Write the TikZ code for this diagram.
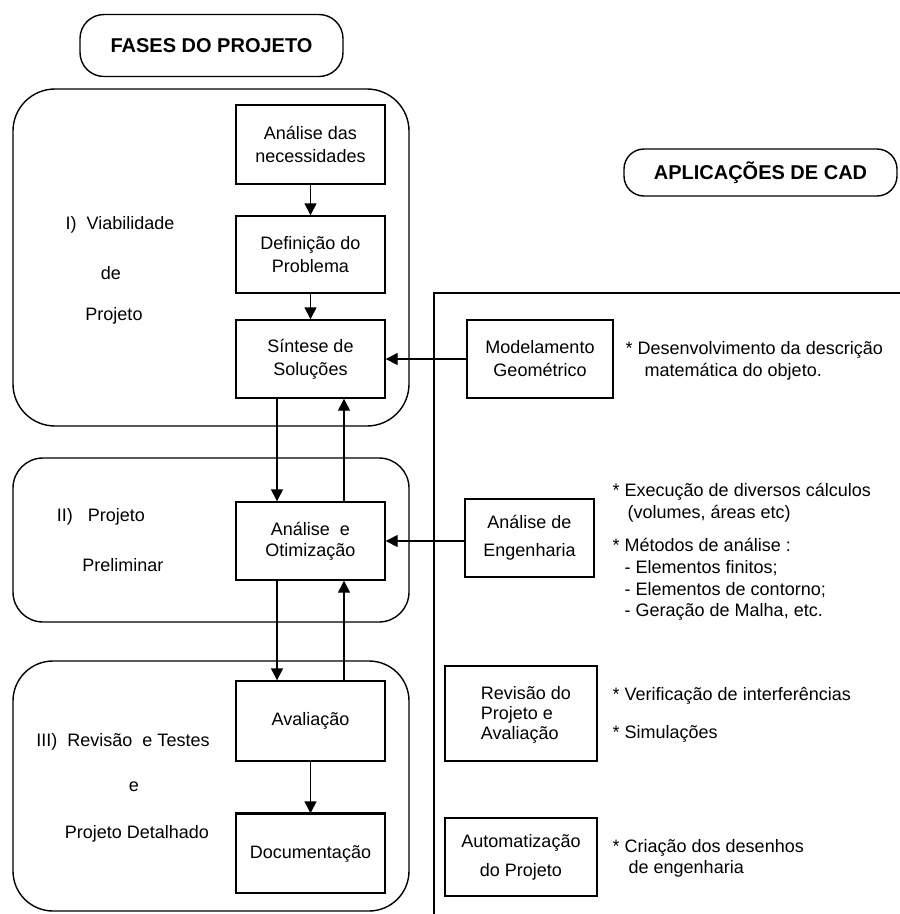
\documentclass[tikz,border=0pt]{standalone}
\usepackage{fontspec}
\setmainfont{Liberation Sans}
\usetikzlibrary{arrows.meta}
\begin{document}
\begin{tikzpicture}[x=1pt,y=-1pt,
  line width=1.4pt,
  font=\fontsize{18}{23}\selectfont,
  title/.style={draw, rounded corners=24pt, inner sep=0pt,
    font=\fontsize{20}{24}\selectfont\bfseries},
  phasebox/.style={draw, minimum width=149pt, minimum height=79pt, inner sep=0pt, align=center},
  cadbox/.style={draw, inner sep=0pt, align=center},
  plain/.style={inner sep=0pt, align=left},
  note/.style={inner sep=0pt, align=left, anchor=west},
  arr/.style={-{Triangle[length=12pt,width=12pt]}},
  frame/.style={line width=1.4pt}
]
\useasboundingbox (0,0) rectangle (900,914);

% headings
\node[title, minimum width=263pt, minimum height=62pt] (fases) at (211.5,45.5) {FASES DO PROJETO};
\node[title, minimum width=273pt, minimum height=47pt, rounded corners=20pt] (cad) at (760.5,172.5) {APLICA\c{C}\~OES DE CAD};

% phase frames
\draw[frame, rounded corners=42pt] (13,89) rectangle (409,426);
\draw[frame, rounded corners=30pt] (13,458) rectangle (409,622);
\draw[frame, rounded corners=40pt] (13,661) rectangle (409,911);

% phase labels
\node[plain] (l1a) at (120,225) {I)\; Viabilidade};
\node[plain] (l1b) at (111,273) {de};
\node[plain] (l1c) at (114,316) {Projeto};
\node[plain] (l2a) at (101,517) {II)\;\; Projeto};
\node[plain] (l2b) at (123,565) {Preliminar};
\node[plain] (l3a) at (123,742) {III)\; Revis\~ao\; e Testes};
\node[plain] (l3b) at (134,787) {e};
\node[plain] (l3c) at (137,834) {Projeto Detalhado};

% design steps
\node[phasebox] (nec) at (310.5,144.5) {An\'alise das\\necessidades};
\node[phasebox, minimum height=77pt] (def) at (310.5,254.5) {Defini\c{c}\~ao do\\Problema};
\node[phasebox, minimum height=78pt] (sin) at (310.5,359) {S\'intese de\\Solu\c{c}\~oes};
\node[phasebox, minimum height=78pt, font=\fontsize{18}{21}\selectfont] (oti) at (310.5,541) {An\'alise\; e\\Otimiza\c{c}\~ao};
\node[phasebox, minimum height=80pt] (ava) at (310.5,721) {Avalia\c{c}\~ao};
\node[phasebox] (doc) at (310.5,853.5) {Documenta\c{c}\~ao};
\draw[line width=3pt] (doc.north west) -- (doc.north east);

% columns of the two-way links between phases
\coordinate (down) at (277,0);
\coordinate (up) at (344,0);

\draw[arr] (nec) -- (def);
\draw[arr] (def) -- (sin);
\draw[arr] (down |- sin.south) -- (down |- oti.north);
\draw[arr] (up |- oti.north) -- (up |- sin.south);
\draw[arr] (down |- oti.south) -- (down |- ava.north);
\draw[arr] (up |- ava.north) -- (up |- oti.south);
\draw[arr] (ava) -- (doc);

% CAD applications
\coordinate (cadtop) at (900,293);
\coordinate (cadbot) at (434,914);
\draw[frame] (cadtop) -- (cadbot |- cadtop) -- (cadbot);

\node[cadbox, minimum width=146pt, minimum height=78pt] (mod) at (540,359) {Modelamento\\Geom\'etrico};
\node[cadbox, minimum width=129pt, minimum height=78pt, font=\fontsize{18}{28}\selectfont] (eng) at (529.5,538) {An\'alise de\\Engenharia};
\node[cadbox, minimum width=152pt, minimum height=95pt] (revbox) at (521,713.5) {};
\node[plain, font=\fontsize{18}{20}\selectfont] (rev) at (526,715) {Revis\~ao do\\Projeto e\\Avalia\c{c}\~ao};
\node[cadbox, minimum width=152pt, minimum height=78pt, font=\fontsize{18}{29}\selectfont] (aut) at (521,857) {Automatiza\c{c}\~ao\\do Projeto};

\draw[arr] (mod.west) -- (mod.west -| sin.east);
\draw[arr] (oti.east -| eng.west) -- (oti.east);

% descriptions
\node[note, font=\fontsize{18}{22}\selectfont] (d1) at (625,361) {* Desenvolvimento da descri\c{c}\~ao\\\hspace*{19pt}matem\'atica do objeto.};
\node[note, font=\fontsize{18}{22}\selectfont] (d2) at (612,503) {* Execu\c{c}\~ao de diversos c\'alculos\\\hspace*{15pt}(volumes, \'areas etc)};
\node[note, font=\fontsize{18}{21.7}\selectfont] (d3) at (612,579.5) {* M\'etodos de an\'alise :\\\hspace*{12pt}- Elementos finitos;\\\hspace*{12pt}- Elementos de contorno;\\\hspace*{12pt}- Gera\c{c}\~ao de Malha, etc.};
\node[note] (d4) at (612,696) {* Verifica\c{c}\~ao de interfer\^encias};
\node[note] (d5) at (612,734) {* Simula\c{c}\~oes};
\node[note, font=\fontsize{18}{21}\selectfont] (d6) at (612,858.5) {* Cria\c{c}\~ao dos desenhos\\\hspace*{16pt}de engenharia};
\end{tikzpicture}
\end{document}
